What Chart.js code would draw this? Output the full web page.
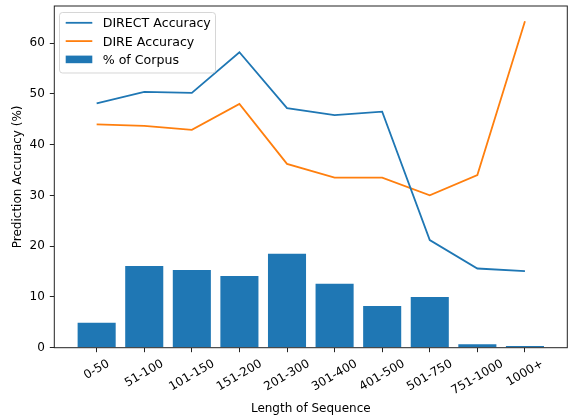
<!DOCTYPE html>
<html>
<head>
<meta charset="utf-8">
<script src="https://cdn.jsdelivr.net/npm/chart.js@4/dist/chart.umd.min.js"></script>
<style>
  html, body { margin: 0; padding: 0; background: #fff; }
  #c { display: block; }
</style>
</head>
<body>
<canvas id="c" width="569" height="417"></canvas>
<script>
// Sequence-length buckets and the measured values per bucket
const categories = ['0-50', '51-100', '101-150', '151-200', '201-300', '301-400', '401-500', '501-750', '751-1000', '1000+'];
const directAccuracy = [48.1, 50.4, 50.2, 58.2, 47.2, 45.8, 46.5, 21.2, 15.6, 15.1];
const direAccuracy = [44.0, 43.7, 42.9, 48.0, 36.2, 33.5, 33.5, 30.0, 34.0, 64.3];
const corpusShare = [4.9, 16.1, 15.3, 14.1, 18.5, 12.6, 8.2, 10.0, 0.7, 0.35];
const yTicks = [0, 10, 20, 30, 40, 50, 60];

const FONT = 'DejaVu Sans';
const BLUE = '#1f77b4';
const ORANGE = '#ff7f0e';
const TICK_LEN = 4.5;
const TICK_PAD = 5;

const toPoints = vals => vals.map((v, i) => ({ x: i, y: v }));

// Frame, rotated category labels, axis titles and legend
const decorations = {
  id: 'decorations',
  afterDraw(chart) {
    const ctx = chart.ctx;
    const a = chart.chartArea;
    const xs = chart.scales.x;
    ctx.save();

    // axes frame
    ctx.strokeStyle = '#222';
    ctx.lineWidth = 1;
    ctx.strokeRect(a.left, a.top, a.right - a.left, a.bottom - a.top);

    // x tick labels, rotated 30 degrees and centred under each tick
    ctx.font = '12px "' + FONT + '"';
    ctx.fillStyle = '#000';
    const ang = Math.PI / 6;
    const lineH = 14;
    categories.forEach((lab, i) => {
      const px = xs.getPixelForValue(i);
      const w = ctx.measureText(lab).width;
      const H = w * Math.sin(ang) + lineH * Math.cos(ang);
      const cy = a.bottom + TICK_LEN + 4.7 + H / 2;
      ctx.save();
      ctx.translate(px, cy);
      ctx.rotate(-ang);
      ctx.textAlign = 'center';
      ctx.textBaseline = 'middle';
      ctx.fillText(lab, 0, 0);
      ctx.restore();
    });

    // axis titles
    ctx.textAlign = 'center';
    ctx.textBaseline = 'alphabetic';
    ctx.fillText('Length of Sequence', (a.left + a.right) / 2, 412);
    ctx.save();
    ctx.translate(20.5, (a.top + a.bottom) / 2);
    ctx.rotate(-Math.PI / 2);
    ctx.fillText('Prediction Accuracy (%)', 0, 0);
    ctx.restore();

    // legend
    ctx.beginPath();
    ctx.roundRect(59.5, 12.5, 156, 60.5, 3);
    ctx.fillStyle = 'rgba(255,255,255,0.8)';
    ctx.fill();
    ctx.strokeStyle = 'rgba(204,204,204,0.8)';
    ctx.lineWidth = 1;
    ctx.stroke();

    ctx.font = '12.6px "' + FONT + '"';
    const items = chart.data.datasets
      .slice()
      .sort((p, q) => p.legendRank - q.legendRank);
    const baselines = [27.3, 45.6, 63.6];
    items.forEach((ds, k) => {
      const yb = baselines[k];
      if (ds.type === 'line') {
        ctx.strokeStyle = ds.borderColor;
        ctx.lineWidth = 1.8;
        ctx.beginPath();
        ctx.moveTo(65.7, yb - 4.5);
        ctx.lineTo(92.3, yb - 4.5);
        ctx.stroke();
      } else {
        ctx.fillStyle = ds.backgroundColor;
        ctx.fillRect(65.7, yb - 8, 26.6, 7.6);
      }
      ctx.fillStyle = '#000';
      ctx.textAlign = 'left';
      ctx.fillText(ds.label, 102.7, yb);
    });

    ctx.restore();
  }
};

new Chart(document.getElementById('c'), {
  type: 'bar',
  data: {
    datasets: [
      {
        type: 'bar',
        label: '% of Corpus',
        data: toPoints(corpusShare),
        backgroundColor: BLUE,
        borderWidth: 0,
        categoryPercentage: 1,
        barPercentage: 0.8,
        order: 3,
        legendRank: 2
      },
      {
        type: 'line',
        label: 'DIRECT Accuracy',
        data: toPoints(directAccuracy),
        borderColor: BLUE,
        backgroundColor: BLUE,
        borderWidth: 1.8,
        pointRadius: 0,
        tension: 0,
        fill: false,
        order: 1,
        legendRank: 0
      },
      {
        type: 'line',
        label: 'DIRE Accuracy',
        data: toPoints(direAccuracy),
        borderColor: ORANGE,
        backgroundColor: ORANGE,
        borderWidth: 1.8,
        pointRadius: 0,
        tension: 0,
        fill: false,
        order: 2,
        legendRank: 1
      }
    ]
  },
  options: {
    responsive: false,
    animation: false,
    devicePixelRatio: 1,
    layout: { padding: { left: 0, right: 1.7, top: 6, bottom: 0 } },
    plugins: {
      legend: { display: false },
      tooltip: { enabled: false },
      title: { display: false }
    },
    scales: {
      x: {
        type: 'linear',
        min: -0.89,
        max: 9.89,
        offset: false,
        afterBuildTicks: s => { s.ticks = categories.map((_, i) => ({ value: i })); },
        ticks: { display: false },
        grid: {
          display: true, drawOnChartArea: false, drawTicks: true,
          tickLength: TICK_LEN, color: '#222', lineWidth: 1, offset: false
        },
        border: { display: false },
        afterFit: s => { s.height = 69.3; s.paddingLeft = 0; s.paddingRight = 0; }
      },
      y: {
        min: 0,
        max: 67.3,
        afterBuildTicks: s => { s.ticks = yTicks.map(v => ({ value: v })); },
        ticks: { color: '#000', font: { family: FONT, size: 12 }, padding: TICK_PAD },
        grid: {
          display: true, drawOnChartArea: false, drawTicks: true,
          tickLength: TICK_LEN, color: '#222', lineWidth: 1
        },
        border: { display: false },
        afterFit: s => { s.width = 54.3; s.paddingTop = 0; s.paddingBottom = 0; }
      }
    }
  },
  plugins: [decorations]
});
</script>
</body>
</html>
